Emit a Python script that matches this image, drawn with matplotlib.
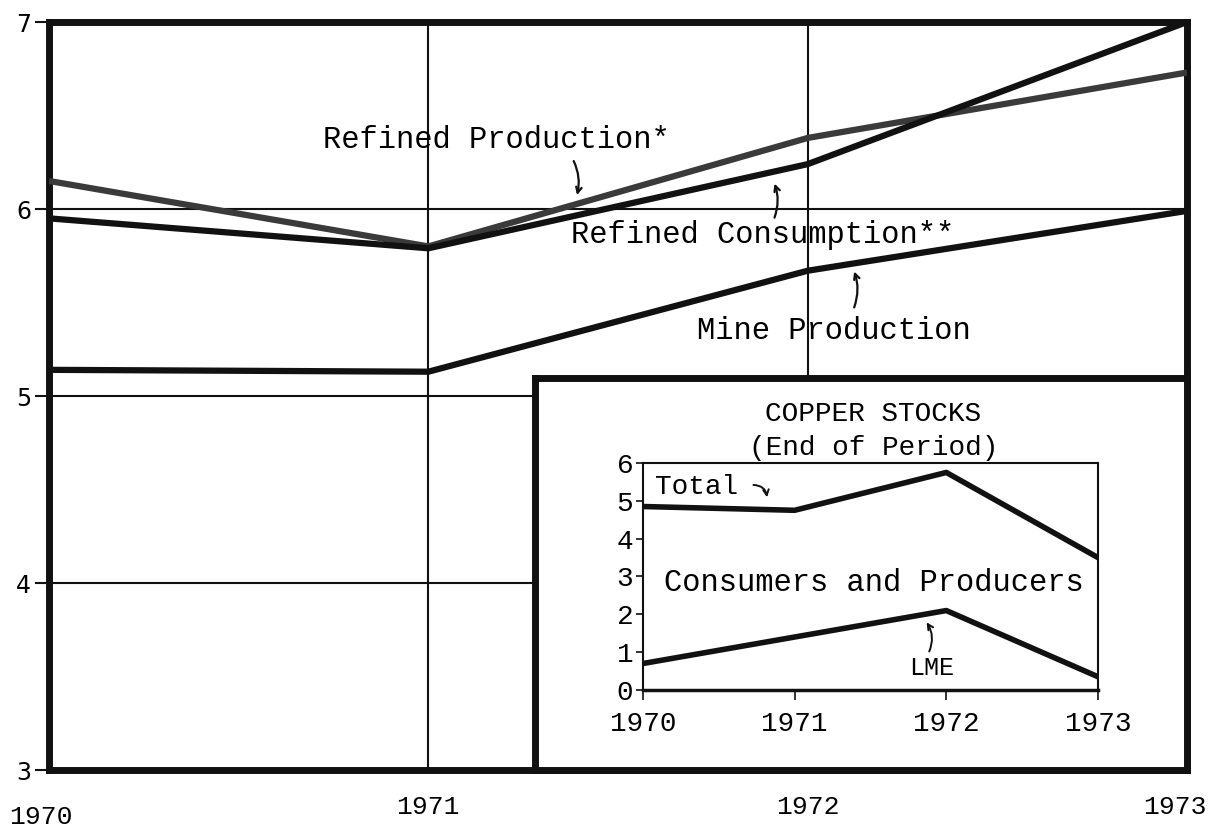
import matplotlib
matplotlib.use('Agg')
import matplotlib.pyplot as plt
from matplotlib.transforms import ScaledTranslation

# World copper supply / demand (million tons)
years = [1970, 1971, 1972, 1973]
refined_production = [6.15, 5.80, 6.38, 6.73]
refined_consumption = [5.95, 5.79, 6.24, 7.00]
mine_production = [5.14, 5.13, 5.67, 5.99]
main_yticks = [3, 4, 5, 6, 7]

# Copper stocks inset
stock_years = [1970, 1971, 1972, 1973]
total_stocks = [4.85, 4.75, 5.75, 3.50]
lme_stocks = [0.70, 1.40, 2.10, 0.35]
stock_yticks = [0, 1, 2, 3, 4, 5, 6]

mono = 'Liberation Mono'
ink = '#111111'

fig = plt.figure(figsize=(12.1, 8.4), dpi=100)

# main chart
ax = fig.add_axes([0.0405, 0.0833, 0.9405, 0.8905])
ax.plot(years, refined_production, color='#3a3a3a', lw=4.5, solid_capstyle='butt', zorder=3)
ax.plot(years, refined_consumption, color=ink, lw=4.5, solid_capstyle='butt', zorder=3)
ax.plot(years, mine_production, color=ink, lw=4.5, solid_capstyle='butt', zorder=3)

ax.set_xlim(1970, 1973)
ax.set_ylim(3, 7)
ax.set_xticks(years)
ax.set_xticklabels([str(y) for y in years], fontfamily=mono, fontsize=19)
ax.set_yticks(main_yticks)
ax.set_yticklabels([str(v) for v in main_yticks], fontfamily='DejaVu Sans', fontsize=17)
ax.tick_params(axis='x', length=0, pad=18)
ax.tick_params(axis='y', length=10, width=1.5, pad=3, color=ink)
ax.grid(True, color=ink, lw=1.5)
ax.set_axisbelow(True)
for s in ax.spines.values():
    s.set_linewidth(5)
    s.set_color(ink)

# first and last year labels sit a little off in the original
xlabels = ax.get_xticklabels()
xlabels[0].set_transform(xlabels[0].get_transform()
                         + ScaledTranslation(-0.08, -0.1, fig.dpi_scale_trans))
xlabels[-1].set_horizontalalignment('right')
xlabels[-1].set_transform(xlabels[-1].get_transform()
                          + ScaledTranslation(0.2, 0, fig.dpi_scale_trans))

# labels with little hand-drawn arrows
ax.text(1971.18, 6.37, 'Refined Production*', fontfamily=mono, fontsize=22,
        ha='center', va='center')
ax.annotate('', xy=(1971.39, 6.06), xytext=(1971.38, 6.27),
            arrowprops=dict(arrowstyle='->', color=ink, lw=1.6,
                            connectionstyle='arc3,rad=-0.2'))
ax.text(1971.88, 5.86, 'Refined Consumption**', fontfamily=mono, fontsize=22,
        ha='center', va='center')
ax.annotate('', xy=(1971.91, 6.15), xytext=(1971.91, 5.94),
            arrowprops=dict(arrowstyle='->', color=ink, lw=1.6,
                            connectionstyle='arc3,rad=0.2'))
ax.text(1972.07, 5.35, 'Mine Production', fontfamily=mono, fontsize=22,
        ha='center', va='center')
ax.annotate('', xy=(1972.12, 5.68), xytext=(1972.12, 5.46),
            arrowprops=dict(arrowstyle='->', color=ink, lw=1.6,
                            connectionstyle='arc3,rad=0.2'))

# white box holding the inset
frame = fig.add_axes([0.4421, 0.0833, 0.5389, 0.4667])
frame.set_xticks([])
frame.set_yticks([])
frame.set_facecolor('white')
for s in frame.spines.values():
    s.set_linewidth(5)
    s.set_color(ink)

# inset chart
ins = fig.add_axes([0.5314, 0.1786, 0.3760, 0.2702])
ins.plot(stock_years, total_stocks, color=ink, lw=4, zorder=3)
ins.plot(stock_years, lme_stocks, color=ink, lw=4, zorder=3)
ins.set_xlim(1970, 1973)
ins.set_ylim(0, 6)
ins.set_xticks(stock_years)
ins.set_xticklabels([str(y) for y in stock_years], fontfamily=mono, fontsize=20)
ins.set_yticks(stock_yticks)
ins.set_yticklabels([str(v) for v in stock_yticks], fontfamily=mono, fontsize=20)
ins.tick_params(axis='x', length=7, width=1.2, pad=8, color=ink)
ins.tick_params(axis='y', length=5, width=1.2, pad=2, color=ink)
for s in ins.spines.values():
    s.set_linewidth(1.5)
    s.set_color(ink)
ins.spines['bottom'].set_linewidth(2.5)

ins.text(1971.52, 7.3, 'COPPER STOCKS', fontfamily=mono, fontsize=20,
         ha='center', va='center', clip_on=False)
ins.text(1971.52, 6.4, '(End of Period)', fontfamily=mono, fontsize=20,
         ha='center', va='center', clip_on=False)
ins.text(1970.08, 5.37, 'Total', fontfamily=mono, fontsize=20, ha='left', va='center')
ins.annotate('', xy=(1970.82, 5.02), xytext=(1970.71, 5.42),
             arrowprops=dict(arrowstyle='->', color=ink, lw=1.4,
                             connectionstyle='arc3,rad=-0.5'))
ins.text(1971.52, 2.83, 'Consumers and Producers', fontfamily=mono, fontsize=22,
         ha='center', va='center')
ins.text(1971.9, 0.58, 'LME', fontfamily=mono, fontsize=18, ha='center', va='center')
ins.annotate('', xy=(1971.86, 1.85), xytext=(1971.88, 0.95),
             arrowprops=dict(arrowstyle='->', color=ink, lw=1.4,
                             connectionstyle='arc3,rad=0.3'))

plt.savefig('out.png', dpi=100)
